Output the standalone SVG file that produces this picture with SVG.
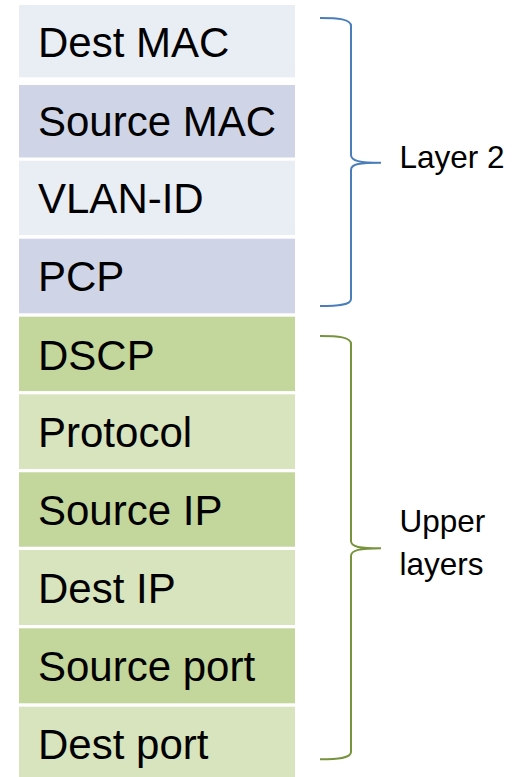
<svg xmlns="http://www.w3.org/2000/svg" width="513" height="777" viewBox="0 0 513 777">
<style>
.cell text{font-family:"Liberation Sans",Arial,sans-serif;font-size:42px;fill:#000}
.b1{fill:#E9EDF4}.b2{fill:#CFD5E6}.g1{fill:#C3D69B}.g2{fill:#D7E4BD}
.lbl{font-family:"Liberation Sans",Arial,sans-serif;font-size:31.5px;fill:#000}
.brace{fill:none;stroke-width:2}
</style>
<rect width="513" height="777" fill="#fff"/>
<g id="dest-mac" class="cell"><rect class="b1" x="19" y="5" width="276" height="72.3"/><text x="38" y="56.7">Dest MAC</text></g>
<g id="source-mac" class="cell"><rect class="b2" x="19" y="85" width="276" height="72.5"/><text x="38" y="136">Source MAC</text></g>
<g id="vlan-id" class="cell"><rect class="b1" x="19" y="160.7" width="276" height="74.3"/><text x="38" y="213">VLAN-ID</text></g>
<g id="pcp" class="cell"><rect class="b2" x="19" y="238.7" width="276" height="74.6"/><text x="38" y="291">PCP</text></g>
<g id="dscp" class="cell"><rect class="g1" x="19" y="316.7" width="276" height="74.4"/><text x="38" y="369.5">DSCP</text></g>
<g id="protocol" class="cell"><rect class="g2" x="19" y="394.3" width="276" height="74.7"/><text x="38" y="447">Protocol</text></g>
<g id="source-ip" class="cell"><rect class="g1" x="19" y="472.3" width="276" height="74.4"/><text x="38" y="525">Source IP</text></g>
<g id="dest-ip" class="cell"><rect class="g2" x="19" y="550" width="276" height="75"/><text x="38" y="602.5">Dest IP</text></g>
<g id="source-port" class="cell"><rect class="g1" x="19" y="628.3" width="276" height="75"/><text x="38" y="681">Source port</text></g>
<g id="dest-port" class="cell"><rect class="g2" x="19" y="706.7" width="276" height="75"/><text x="38" y="759">Dest port</text></g>
<g id="connectors">
<path class="brace" stroke="#4A7EBB" d="M320,18 C338,18 351,19 351,26 L351,155 C351,161 360,162.7 381,162.7 C360,162.7 351,164 351,170 L351,299 C351,305 338,306 320,306"/>
<path class="brace" stroke="#77933C" d="M320,336 C338,336 351,337 351,344 L351,541 C351,547 360,548.3 381,548.3 C360,548.3 351,550 351,556 L351,752 C351,758 338,759.3 320,759.3"/>
</g>
<g id="layer2-label"><text class="lbl" x="399.5" y="168">Layer 2</text></g>
<g id="upper-label"><text class="lbl" x="399.5" y="532">Upper</text><text class="lbl" x="399.5" y="575">layers</text></g>
</svg>
